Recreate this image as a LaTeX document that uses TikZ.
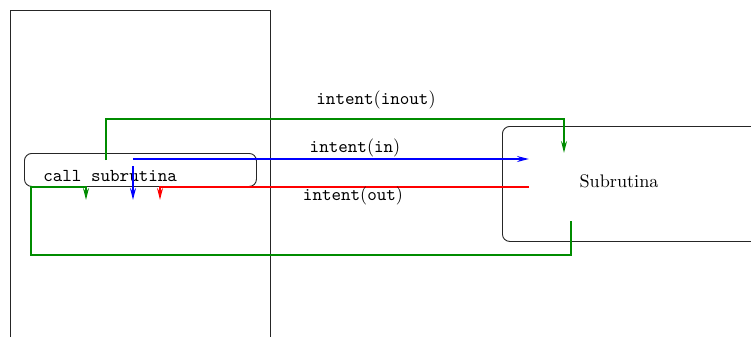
\documentclass[tikz,border=0pt]{standalone}
\usetikzlibrary{arrows.meta}
\begin{document}
\begin{tikzpicture}[x=0.55pt,y=-0.55pt,
  frame/.style={draw=black!85,line width=0.5pt},
  roundbox/.style={draw=black!85,line width=0.5pt,rounded corners=4pt},
  flow/.style={line width=1.25pt,-{Stealth[length=6.5pt,width=3.2pt]}},
  lbl/.style={inner sep=0pt}]
\useasboundingbox (0,0) rectangle (751,337);
% calling program frame (open at the bottom)
\draw[frame] (10,337) -- (10,10) -- (270,10) -- (270,337);
\node[roundbox,minimum width=232*0.55pt,minimum height=33*0.55pt,anchor=north west,inner sep=0pt] (call) at (24,153) {};
\node[font=\ttfamily,anchor=west,inner sep=0pt] (calltxt) at (43,176) {call subrutina};
% subroutine box
\node[roundbox,minimum width=260*0.55pt,minimum height=115*0.55pt,anchor=north west,inner sep=0pt] (sub) at (502,126) {};
\node[anchor=center,inner sep=0pt] (subtxt) at (619,181) {Subrutina};
% named end points
\coordinate (io1) at (106,160);
\coordinate (io2) at (564,153);
\coordinate (in1) at (133,159);
\coordinate (in2) at (529,159);
\coordinate (in3) at (133,166);
\coordinate (in4) at (133,200);
\coordinate (out1) at (529,187);
\coordinate (out2) at (160,200);
\coordinate (ret1) at (571,221);
\coordinate (ret2) at (86,200);
% intent(inout)
\draw[flow,green!55!black,line width=1.55pt] (io1) -- (106,119) -| (io2);
\node[lbl] (linout) at (376,100) {\texttt{intent}(\texttt{inout})};
% intent(in)
\draw[flow,blue] (in1) -- (in2);
\draw[flow,blue] (in3) -- (in4);
\node[lbl] (lin) at (355,148) {\texttt{intent}(\texttt{in})};
% intent(out)
\draw[flow,red] (out1) -| (out2);
\node[lbl] (lout) at (353,196) {\texttt{intent}(\texttt{out})};
% value coming back for inout
\draw[flow,green!55!black,line width=1.55pt] (ret1) |- (31,255) |- (86,187) -- (ret2);
\end{tikzpicture}
\end{document}
